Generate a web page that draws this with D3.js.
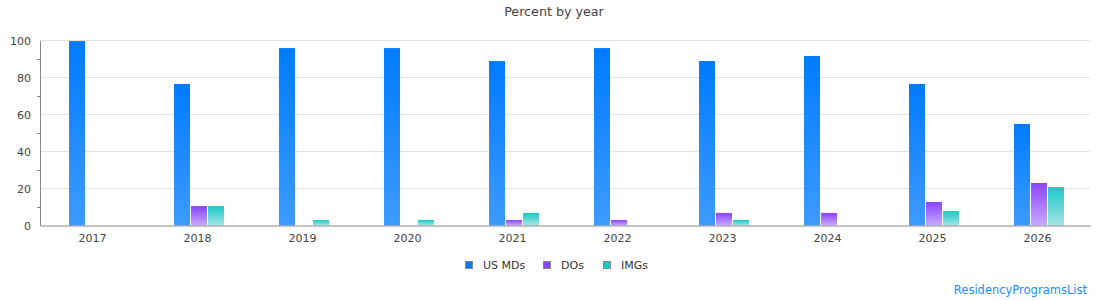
<!DOCTYPE html>
<html><head><meta charset="utf-8">
<script src="https://cdn.jsdelivr.net/npm/d3@7"></script>
<style>body{margin:0;background:#fff;font-family:"DejaVu Sans",sans-serif;}</style>
</head><body><svg id="c" width="1110" height="300"></svg>
<script>
const years = ["2017","2018","2019","2020","2021","2022","2023","2024","2025","2026"];
const seriesNames = ["US MDs","DOs","IMGs"];
const usMDs = [99.7, 76.5, 95.9, 95.9, 88.9, 95.9, 88.9, 91.6, 76.5, 54.9];
const dos   = [0, 10.5, 0, 0, 3.0, 3.0, 6.8, 6.8, 12.7, 23.0];
const imgs  = [0, 10.5, 3.0, 3.0, 6.8, 0, 3.0, 0, 7.8, 20.8];
const yTicks = [0, 20, 40, 60, 80, 100];
const yMinorTicks = [10, 30, 50, 70, 90];
const topColors = ["#007bff", "#8a44ff", "#19c9c9"];
const bottomColors = ["#3d9bff", "#c8a9ff", "#a6e4e4"];

const svg = d3.select("#c");
const L = 40, R = 1090, T = 40.5, B = 225.5;
const x = d3.scaleBand().domain(years).range([L, R]);
const y = d3.scaleLinear().domain([0, 100]).range([B, T]);
const barW = 16, gap = 1;

const defs = svg.append("defs");
topColors.forEach((c, i) => {
  const g = defs.append("linearGradient").attr("id", "g" + i)
    .attr("x1", 0).attr("y1", 0).attr("x2", 0).attr("y2", 1);
  g.append("stop").attr("offset", "0%").attr("stop-color", c);
  g.append("stop").attr("offset", "100%").attr("stop-color", bottomColors[i]);
});

// gridlines
svg.append("g").selectAll("line").data(yTicks.filter(d => d > 0)).join("line")
  .attr("x1", L).attr("x2", R).attr("y1", d => y(d)).attr("y2", d => y(d))
  .attr("stroke", "#e2e2e2").attr("stroke-width", 1);

// bars
const data = [usMDs, dos, imgs];
data.forEach((arr, si) => {
  svg.append("g").selectAll("rect").data(years).join("rect")
    .attr("x", (d) => x(d) + x.bandwidth() / 2 - 23.5 + si * (barW + gap))
    .attr("width", barW)
    .attr("y", (d, i) => y(arr[i]))
    .attr("height", (d, i) => B - y(arr[i]))
    .attr("fill", "url(#g" + si + ")");
});

// y axis
const yAxis = d3.axisLeft(y).tickValues(yTicks).tickSize(0).tickPadding(9);
const ya = svg.append("g").attr("transform", `translate(${L},0)`).call(yAxis);
ya.select(".domain").attr("stroke", "#888");
ya.selectAll("text").attr("fill", "#444").style("font-size", "11px").style("font-family", "DejaVu Sans");
// minor ticks
svg.append("g").selectAll("line").data(yMinorTicks).join("line")
  .attr("x1", L - 3).attr("x2", L).attr("y1", d => Math.round(y(d)) + 0.5).attr("y2", d => Math.round(y(d)) + 0.5)
  .attr("stroke", "#888");

// x axis
const xAxis = d3.axisBottom(x).tickSize(0).tickPadding(9);
const xa = svg.append("g").attr("transform", `translate(0,${B})`).call(xAxis);
xa.select(".domain").attr("stroke", "#888");
xa.selectAll("text").attr("fill", "#444").style("font-size", "11px").style("font-family", "DejaVu Sans");

// title
svg.append("text").attr("x", 554).attr("y", 16).attr("text-anchor", "middle")
  .attr("fill", "#444").style("font-size", "12.7px").text("Percent by year");

// legend
const legX = [465, 543, 603];
seriesNames.forEach((n, i) => {
  svg.append("rect").attr("x", legX[i] + 0.5).attr("y", 261.5).attr("width", 7).attr("height", 7)
    .attr("fill", topColors[i]).attr("stroke", "#888").attr("stroke-width", 1);
  svg.append("text").attr("x", legX[i] + 18).attr("y", 269).attr("fill", "#333")
    .style("font-size", "11px").text(n);
});

// watermark
svg.append("text").attr("x", 1087).attr("y", 294).attr("text-anchor", "end")
  .attr("fill", "#1a8cff").style("font-size", "11.5px").text("ResidencyProgramsList");
</script></body></html>
